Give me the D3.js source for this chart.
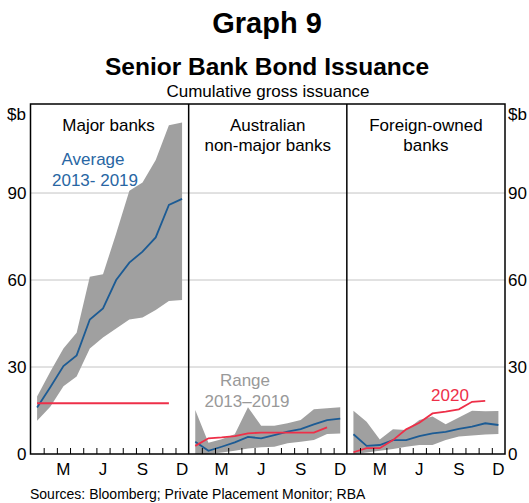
<!DOCTYPE html>
<html>
<head>
<meta charset="utf-8">
<script src="https://cdn.jsdelivr.net/npm/d3@7"></script>
<style>
  body { margin: 0; background: #fff; }
  text { font-family: "Liberation Sans", Arial, sans-serif; }
</style>
</head>
<body>
<script>
// data, one value per month (Jan..Dec), $b
const monthLabels = ["M", "J", "S", "D"]
const monthLabelPos = [2, 5, 8, 11]
const yTicks = [0, 30, 60, 90]

const panelNames = [["Major banks"], ["Australian", "non-major banks"], ["Foreign-owned", "banks"]]

const majorAvg  = [16, 23, 30.3, 34, 46.4, 50.2, 60, 66, 69.8, 74.7, 85.9, 88]
const majorLow  = [11.5, 16.3, 23.4, 26.7, 36.4, 40.2, 43.3, 46.4, 47.1, 49.7, 52.8, 53.1]
const majorHigh = [19.8, 28.4, 36.4, 41.8, 61.1, 62, 76, 90.8, 93.6, 101.4, 113.4, 114.3]
const major2020 = [17.5, 17.5, 17.5, 17.5, 17.5, 17.5, 17.5, 17.5, 17.5, 17.5, 17.5]

const nonMajorAvg  = [4.2, 1.1, 2.5, 4, 5.9, 5.4, 6.5, 7.7, 8.6, 10.2, 11.7, 12.2]
const nonMajorLow  = [0, 0, 0.5, 1.1, 1.9, 2.3, 2.5, 3.7, 4.2, 4.8, 6.9, 7.1]
const nonMajorHigh = [15.2, 3.9, 5.1, 6.8, 16.1, 9.7, 9.7, 10.6, 11.7, 15.4, 15.8, 16.1]
const nonMajor2020 = [2.8, 5.4, 5.7, 6.2, 7.1, 7.4, 7.4, 7.4, 7.4, 7.4, 9.2]

const foreignAvg  = [6.8, 2.8, 3.1, 4.8, 4.8, 6.2, 7.1, 7.6, 8.7, 9.4, 10.6, 10]
const foreignLow  = [0, 0.5, 1.1, 1.7, 2.5, 3.1, 3.1, 4.8, 6, 6.4, 6.7, 6.9]
const foreignHigh = [14.9, 11.1, 5, 8.5, 8.3, 11.7, 12.9, 10.3, 12.6, 14.9, 14.7, 14.8]
const foreign2020 = [0.6, 2, 2, 4.8, 8.5, 10.8, 14, 14.6, 15.4, 18, 18.3]

const panels = [
  {avg: majorAvg, low: majorLow, high: majorHigh, y2020: major2020},
  {avg: nonMajorAvg, low: nonMajorLow, high: nonMajorHigh, y2020: nonMajor2020},
  {avg: foreignAvg, low: foreignLow, high: foreignHigh, y2020: foreign2020}
]

const w = 529
const h = 503
const plotL = 30.5, plotR = 505, plotT = 104, plotB = 454
const blue = "#1c5b94", red = "#ee2f48", grey = "#a0a0a0"
const fs = "17px"

const svg = d3.select("body").append("svg")
  .attr("width", w)
  .attr("height", h)

// titles
svg.append("text").attr("x", 267).attr("y", 33).attr("text-anchor", "middle")
  .style("font-size", "29px").style("font-weight", "bold").text("Graph 9")
svg.append("text").attr("x", 267).attr("y", 75).attr("text-anchor", "middle")
  .style("font-size", "24.5px").style("font-weight", "bold").text("Senior Bank Bond Issuance")
svg.append("text").attr("x", 268).attr("y", 97).attr("text-anchor", "middle")
  .style("font-size", fs).text("Cumulative gross issuance")

const yScale = d3.scaleLinear().domain([0, 120.7]).range([plotB, plotT])

const panelW = (plotR - plotL) / 3

// gridlines
svg.selectAll(".grid").data(yTicks.filter(d => d > 0)).enter().append("line")
  .attr("x1", plotL).attr("x2", plotR)
  .attr("y1", d => yScale(d)).attr("y2", d => yScale(d))
  .attr("stroke", "#c4c4c4").attr("stroke-width", 1)

panels.forEach((p, i) => {
  const x0 = plotL + i * panelW
  const xScale = d3.scaleLinear().domain([0, 12]).range([x0, x0 + panelW])
  const g = svg.append("g")

  const area = d3.area()
    .x((d, j) => xScale(j + 0.5))
    .y0((d, j) => yScale(p.low[j]))
    .y1(d => yScale(d))
  g.append("path").datum(p.high).attr("d", area).attr("fill", grey)

  const line = d3.line().x((d, j) => xScale(j + 0.5)).y(d => yScale(d))
  g.append("path").datum(p.avg).attr("d", line)
    .attr("fill", "none").attr("stroke", blue).attr("stroke-width", 1.8)
  g.append("path").datum(p.y2020).attr("d", line)
    .attr("fill", "none").attr("stroke", red).attr("stroke-width", 1.8)

  // month ticks pointing up
  const xAxis = d3.axisBottom(xScale)
    .tickValues(d3.range(1, 12))
    .tickSize(-6)
    .tickFormat("")
  g.append("g").attr("transform", "translate(0," + plotB + ")").call(xAxis)
    .call(a => a.select(".domain").remove())
    .call(a => a.selectAll("line").attr("stroke", "#000").attr("stroke-width", 1))

  g.selectAll(".mlab").data(monthLabels).enter().append("text")
    .attr("x", (d, j) => xScale(monthLabelPos[j] + 0.5))
    .attr("y", 474.5)
    .attr("text-anchor", "middle")
    .style("font-size", fs)
    .text(d => d)

  const name = g.append("text").attr("text-anchor", "middle").style("font-size", fs)
  panelNames[i].forEach((s, k) => {
    name.append("tspan").attr("x", x0 + panelW / 2 + (i == 0 ? -1 : 0)).attr("y", 130.5 + k * 20).text(s)
  })
})

// frame and dividers
svg.append("rect").attr("x", plotL).attr("y", plotT).attr("width", plotR - plotL).attr("height", plotB - plotT)
  .attr("fill", "none").attr("stroke", "#000").attr("stroke-width", 1.5)
svg.selectAll(".div").data([1, 2]).enter().append("line")
  .attr("x1", d => plotL + d * panelW).attr("x2", d => plotL + d * panelW)
  .attr("y1", plotT).attr("y2", plotB)
  .attr("stroke", "#000").attr("stroke-width", 1.5)

// y axis labels both sides
const yAxisL = d3.axisLeft(yScale).tickValues(yTicks).tickSize(0).tickPadding(4)
svg.append("g").attr("transform", "translate(" + plotL + ",0)").call(yAxisL)
  .call(a => a.select(".domain").remove())
  .call(a => a.selectAll("text").style("font-size", fs).attr("fill", "#000").style("font-family", "Liberation Sans, Arial, sans-serif"))
const yAxisR = d3.axisRight(yScale).tickValues(yTicks).tickSize(0).tickPadding(3)
svg.append("g").attr("transform", "translate(" + plotR + ",0)").call(yAxisR)
  .call(a => a.select(".domain").remove())
  .call(a => a.selectAll("text").style("font-size", fs).attr("fill", "#000").style("font-family", "Liberation Sans, Arial, sans-serif"))

svg.append("text").attr("x", 26).attr("y", 120).attr("text-anchor", "end").style("font-size", fs).text("$b")
svg.append("text").attr("x", 508).attr("y", 120).style("font-size", fs).text("$b")

// annotations
const avgNote = svg.append("text").attr("text-anchor", "middle").style("font-size", fs).attr("fill", "#2866a3")
avgNote.append("tspan").attr("x", 93).attr("y", 165).text("Average")
avgNote.append("tspan").attr("x", 95).attr("y", 186).text("2013- 2019")

const rangeNote = svg.append("text").attr("text-anchor", "middle").style("font-size", fs).attr("fill", "#999")
rangeNote.append("tspan").attr("x", 245).attr("y", 386).text("Range")
rangeNote.append("tspan").attr("x", 247).attr("y", 407).text("2013\u20132019")

svg.append("text").attr("x", 450).attr("y", 401).attr("text-anchor", "middle")
  .style("font-size", fs).attr("fill", red).text("2020")

svg.append("text").attr("x", 30).attr("y", 499).style("font-size", "14px")
  .text("Sources: Bloomberg; Private Placement Monitor; RBA")
</script>
</body>
</html>
